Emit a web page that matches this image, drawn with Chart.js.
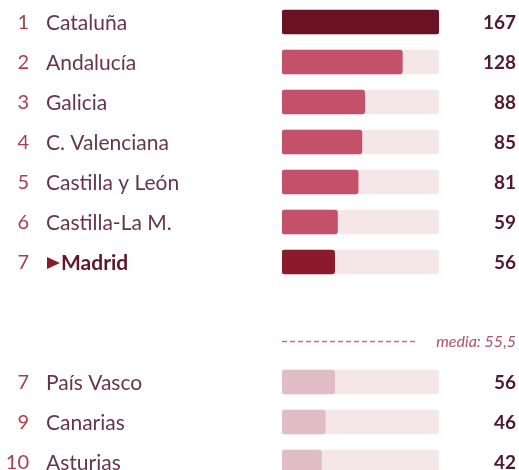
<!DOCTYPE html>
<html>
<head>
<meta charset="utf-8">
<script src="https://cdn.jsdelivr.net/npm/chart.js@4"></script>
<style>
  html, body { margin: 0; padding: 0; background: #fff; overflow: hidden; }
  #wrap { width: 519px; height: 484px; }
</style>
</head>
<body>
<div id="wrap"><canvas id="myChart" width="519" height="484"></canvas></div>
<script>
// rows 7 and 8 are the gap before the average line
const ranks = ["1", "2", "3", "4", "5", "6", "7", "", "", "7", "9", "10"];
const regions = ["Cataluña", "Andalucía", "Galicia", "C. Valenciana", "Castilla y León", "Castilla-La M.", "Madrid", "", "", "País Vasco", "Canarias", "Asturias"];
const values = [167, 128, 88, 85, 81, 59, 56, null, null, 56, 46, 42];
const maxValue = 167;
const media = 55.5;
const mediaLabel = "media: 55,5";
const mediaRow = 8;
const highlight = "Madrid";

const barColors = values.map((v, i) => {
  if (i === 0) return "#6b1122";
  if (regions[i] === highlight) return "#8a1a2c";
  if (i > mediaRow) return "#e0bdc5";
  return "#c4516a";
});
const track = values.map((v) => (v === null ? null : maxValue));

const labelsPlugin = {
  id: "labels",
  afterDatasetsDraw(chart) {
    const ctx = chart.ctx;
    const y = chart.scales.y;
    const x = chart.scales.x;
    ctx.save();
    ctx.textBaseline = "middle";
    regions.forEach((name, i) => {
      if (!name) return;
      const py = y.getPixelForValue(i) + 1;
      ctx.font = "20px Lato";
      ctx.textAlign = "right";
      ctx.fillStyle = "#a8404f";
      ctx.fillText(ranks[i], 29, py);
      ctx.textAlign = "left";
      if (name === highlight) {
        ctx.fillStyle = "#8a1a2c";
        ctx.beginPath();
        ctx.moveTo(47, py - 6);
        ctx.lineTo(60, py);
        ctx.lineTo(47, py + 6);
        ctx.closePath();
        ctx.fill();
        ctx.font = "bold 21px Lato";
        ctx.fillStyle = "#5e1728";
        ctx.fillText(name, 61, py);
      } else {
        ctx.font = "21px Lato";
        ctx.fillStyle = "#66354a";
        ctx.fillText(name, 46, py);
      }
      ctx.font = "bold 19px Lato";
      ctx.textAlign = "right";
      ctx.fillStyle = "#4f1a2a";
      ctx.fillText(String(values[i]), 516, py);
    });
    // average line
    const my = Math.round(y.getPixelForValue(mediaRow) - 1) + 0.5;
    ctx.strokeStyle = "#dc6680";
    ctx.lineWidth = 1.3;
    ctx.setLineDash([5, 3]);
    ctx.beginPath();
    ctx.moveTo(x.getPixelForValue(0), my);
    ctx.lineTo(418, my);
    ctx.stroke();
    ctx.setLineDash([]);
    ctx.font = "italic 16px Lato";
    ctx.fillStyle = "#a8546a";
    ctx.textAlign = "right";
    ctx.fillText(mediaLabel, 516, my);
    ctx.restore();
  },
};

const ctx = document.getElementById("myChart").getContext("2d");
const myChart = new Chart(ctx, {
  type: "bar",
  data: {
    labels: regions.map((r, i) => r || "gap" + i),
    datasets: [
      {
        data: values,
        backgroundColor: barColors,
        borderRadius: 3,
        borderSkipped: false,
        barThickness: 24,
        grouped: false,
        order: 0,
      },
      {
        data: track,
        backgroundColor: "#f5e6ea",
        borderRadius: 3,
        borderSkipped: false,
        barThickness: 24,
        grouped: false,
        order: 1,
      },
    ],
  },
  options: {
    indexAxis: "y",
    responsive: false,
    animation: false,
    layout: { padding: { left: 282, right: 80, top: 2, bottom: 2 } },
    scales: {
      x: { display: false, min: 0, max: maxValue },
      y: { display: false },
    },
    plugins: {
      legend: { display: false },
      tooltip: { enabled: false },
    },
  },
  plugins: [labelsPlugin],
});
</script>
</body>
</html>
